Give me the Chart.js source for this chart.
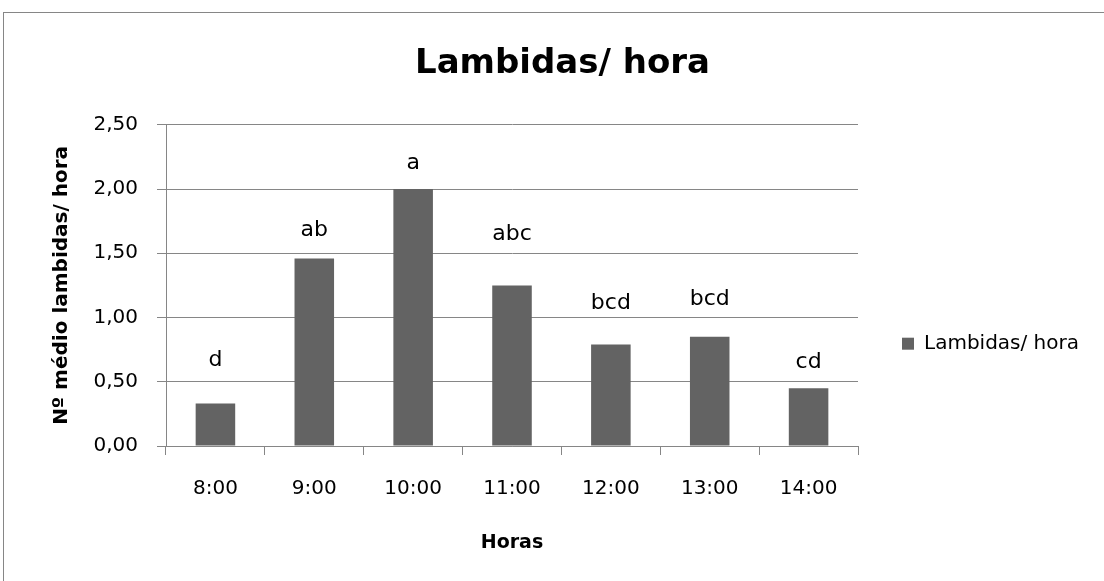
<!DOCTYPE html>
<html>
<head>
<meta charset="utf-8">
<script src="https://cdn.jsdelivr.net/npm/chart.js@4.4.1/dist/chart.umd.min.js"></script>
<style>
  html, body { margin: 0; padding: 0; background: #fff; }
  #wrap { width: 1104px; height: 581px; }
</style>
</head>
<body>
<div id="wrap"><canvas id="chart"></canvas></div>
<script>
// categories, means and the significance letters above each bar
const horas = ['8:00', '9:00', '10:00', '11:00', '12:00', '13:00', '14:00'];
const lambidas = [0.33, 1.46, 2.00, 1.25, 0.79, 0.85, 0.45];
const letras = ['d', 'ab', 'a', 'abc', 'bcd', 'bcd', 'cd'];
// height (in axis units) where each letter sits
const alturaLetras = [0.67, 1.68, 2.20, 1.65, 1.11, 1.14, 0.65];
const yTicks = [0, 0.5, 1, 1.5, 2, 2.5];

const gridColor = '#868686';
const fonte = 'DejaVu Sans';

// frame around the whole chart
const moldura = {
    id: 'moldura',
    beforeDraw(chart) {
        const ctx = chart.ctx;
        ctx.save();
        ctx.strokeStyle = gridColor;
        ctx.lineWidth = 1;
        ctx.strokeRect(3.5, 12.5, 1200, 700);
        ctx.restore();
    }
};

// letters above the bars
const rotulos = {
    id: 'rotulos',
    afterDatasetsDraw(chart) {
        const ctx = chart.ctx;
        const x = chart.scales.x, y = chart.scales.y;
        ctx.save();
        ctx.font = '22px "' + fonte + '"';
        ctx.fillStyle = '#000';
        ctx.textAlign = 'center';
        ctx.textBaseline = 'middle';
        letras.forEach((l, i) => {
            ctx.fillText(l, x.getPixelForValue(i), y.getPixelForValue(alturaLetras[i]));
        });
        ctx.restore();
    }
};

new Chart(document.getElementById('chart'), {
    type: 'bar',
    data: {
        labels: horas,
        datasets: [{
            label: 'Lambidas/ hora',
            data: lambidas,
            backgroundColor: '#636363',
            borderWidth: 0,
            barPercentage: 0.4,
            categoryPercentage: 1.0
        }]
    },
    options: {
        responsive: true,
        maintainAspectRatio: false,
        animation: false,
        layout: { padding: { left: 36, right: 15, top: 0, bottom: 0 } },
        plugins: {
            tooltip: { enabled: false },
            title: {
                display: true,
                text: 'Lambidas/ hora',
                color: '#000',
                font: { family: fonte, size: 34, weight: 'bold' },
                padding: { top: 44, bottom: 40 }
            },
            legend: {
                position: 'right',
                // empty title only pushes the single item down
                title: { display: true, text: ' ', font: { size: 12 }, padding: { top: 0, bottom: 92 } },
                labels: {
                    color: '#000',
                    font: { family: fonte, size: 20 },
                    boxWidth: 12,
                    boxHeight: 12,
                    padding: 44
                }
            }
        },
        scales: {
            x: {
                grid: {
                    display: true,
                    offset: true,
                    drawOnChartArea: false,
                    color: gridColor,
                    tickLength: 9
                },
                border: { color: gridColor },
                ticks: {
                    color: '#000',
                    font: { family: fonte, size: 20 },
                    padding: 22
                },
                title: {
                    display: true,
                    text: 'Horas',
                    color: '#000',
                    font: { family: fonte, size: 19, weight: 'bold' },
                    padding: { top: 0, bottom: 27 }
                },
                afterFit(scale) { scale.height = 135; }
            },
            y: {
                min: 0,
                max: 2.5,
                afterBuildTicks(scale) { scale.ticks = yTicks.map(v => ({ value: v })); },
                grid: { color: gridColor, tickLength: 9 },
                border: { color: gridColor },
                ticks: {
                    color: '#000',
                    font: { family: fonte, size: 20 },
                    padding: 19,
                    callback: v => v.toFixed(2).replace('.', ',')
                },
                title: {
                    display: true,
                    text: 'Nº médio lambidas/ hora',
                    color: '#000',
                    font: { family: fonte, size: 20, weight: 'bold' },
                    padding: { top: 14, bottom: 14 }
                },
                afterFit(scale) { scale.width = 130; }
            }
        }
    },
    plugins: [moldura, rotulos]
});
</script>
</body>
</html>
